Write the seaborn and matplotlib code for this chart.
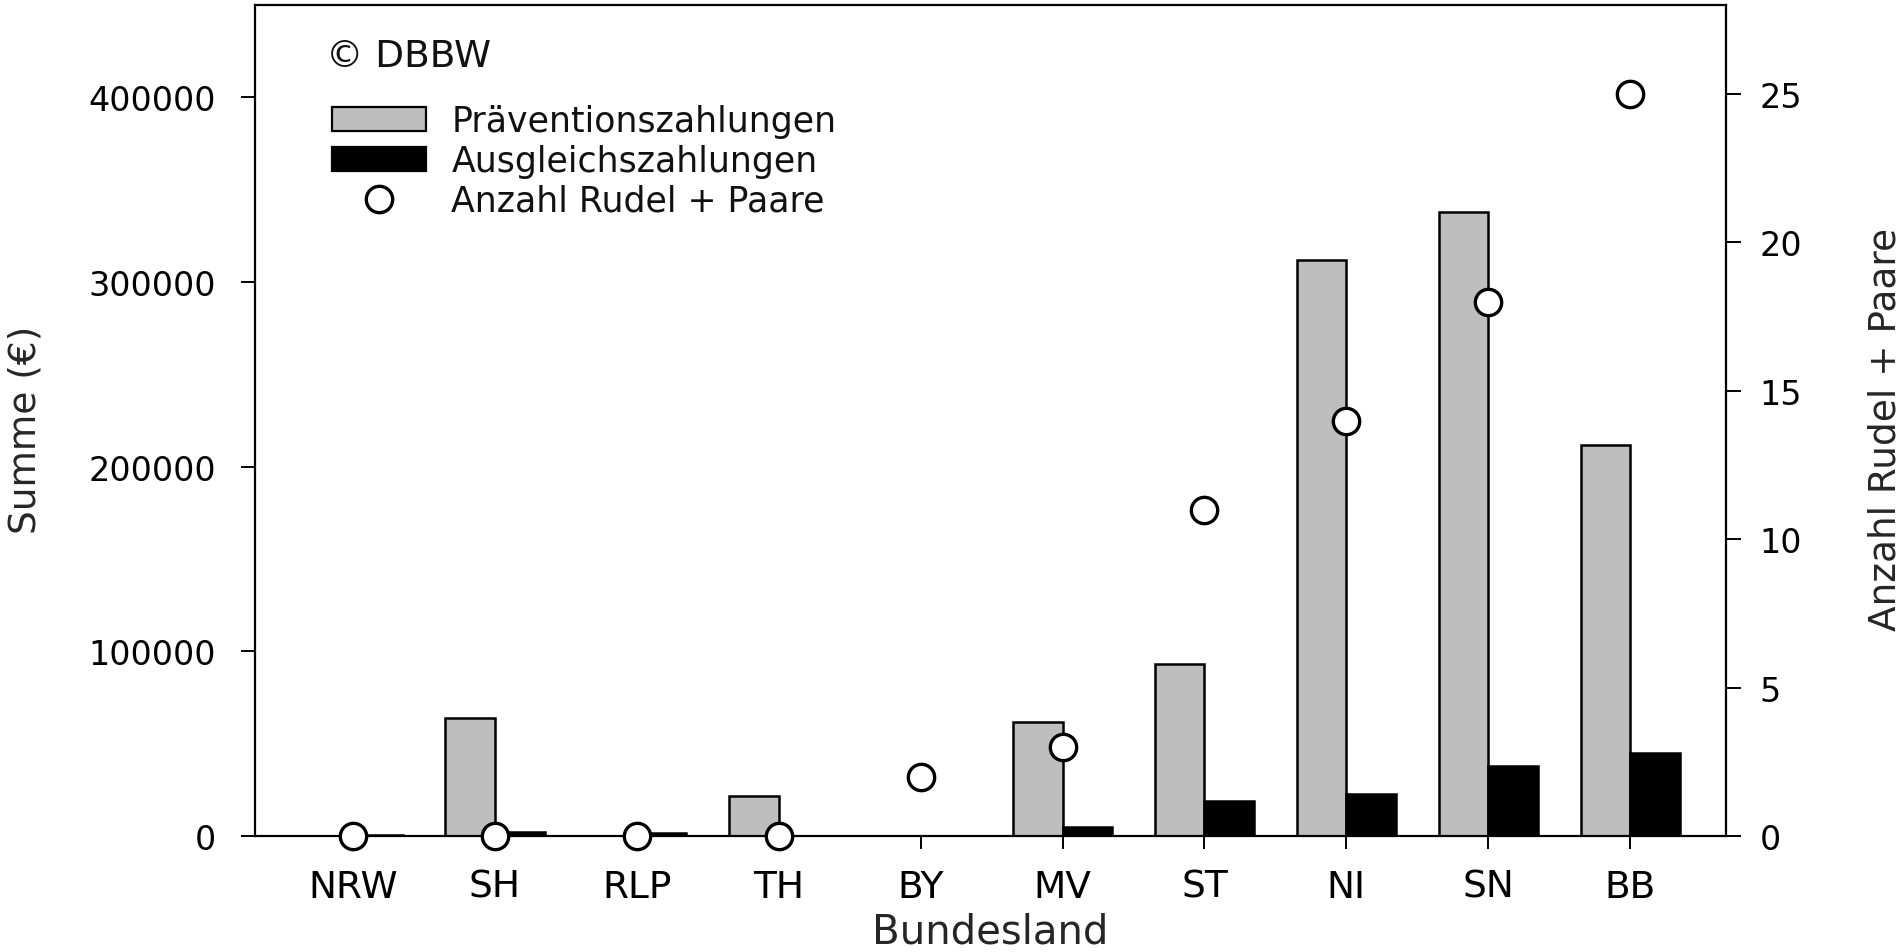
import pandas as pd
import seaborn as sns
import matplotlib.pyplot as plt
from matplotlib.patches import Patch
from matplotlib.lines import Line2D
from matplotlib.ticker import StrMethodFormatter

# 1. Data
states = ['NRW', 'SH', 'RLP', 'TH', 'BY', 'MV', 'ST', 'NI', 'SN', 'BB']
praevention = [0, 64000, 0, 21500, 0, 61500, 93000, 312000, 338000, 212000]
ausgleich = [800, 2000, 1500, 0, 0, 4700, 19000, 23000, 38000, 45000]
rudel_paare = [0, 0, 0, 0, 2, 3, 11, 14, 18, 25]

series_names = ['Präventionszahlungen', 'Ausgleichszahlungen']
series_colors = ['#bebebe', '#000000']
left_ticks = [0, 100000, 200000, 300000, 400000]
right_ticks = [0, 5, 10, 15, 20, 25]

df = pd.DataFrame({
    'Bundesland': states * 2,
    'Summe': praevention + ausgleich,
    'Art': [series_names[0]] * len(states) + [series_names[1]] * len(states),
})

# 2. Style
sns.set_style('ticks')
plt.rcParams['font.family'] = ['DejaVu Sans']
plt.rcParams['text.color'] = '#111111'

fig = plt.figure(figsize=(19.01, 9.53), dpi=100)
ax = fig.add_axes([255 / 1901, 116 / 953, 1471 / 1901, 831 / 953])

# 3. Bars
sns.barplot(
    data=df, x='Bundesland', y='Summe', hue='Art',
    hue_order=series_names, palette=series_colors,
    width=0.7, saturation=1, edgecolor='black', linewidth=1.8,
    legend=False, ax=ax
)

# 4. Circles on the second axis
ax2 = ax.twinx()
sns.scatterplot(
    x=states, y=rudel_paare, ax=ax2, s=360, color='white',
    edgecolor='black', linewidth=2.4, legend=False, zorder=3, clip_on=False
)

# 5. Axes, ticks and labels
ax.set_xlim(-0.69, 9.675)
ax.set_ylim(0, 450000)
ax2.set_ylim(0, 28)
ax.set_yticks(left_ticks)
ax2.set_yticks(right_ticks)
ax.yaxis.set_major_formatter(StrMethodFormatter('{x:.0f}'))

for side in ['left', 'top', 'bottom']:
    ax.spines[side].set_linewidth(1.6)
    ax.spines[side].set_color('black')
    ax2.spines[side].set_visible(False)
ax.spines['right'].set_visible(False)
ax2.spines['right'].set_linewidth(1.6)
ax2.spines['right'].set_color('black')

ax.tick_params(axis='x', direction='out', length=9.5, width=1.4,
               pad=14, labelsize=27, colors='black')
ax.tick_params(axis='y', direction='out', length=10, width=1.4,
               pad=18, labelsize=24, colors='black')
ax2.tick_params(axis='y', direction='out', length=11, width=1.4,
                pad=13, labelsize=24, colors='black')

ax.set_xlabel('Bundesland', fontsize=29)
ax.xaxis.set_label_coords(0.5, -0.091)
ax.set_ylabel('Summe (€)', fontsize=27)
ax.yaxis.set_label_coords(-0.1441, 0.49)
ax2.set_ylabel('Anzahl Rudel + Paare', fontsize=27)
ax2.yaxis.set_label_coords(1.0959, 0.49)

# 6. Legend and credit
handles = [
    Patch(facecolor=series_colors[0], edgecolor='black', linewidth=1.6),
    Patch(facecolor=series_colors[1], edgecolor='black', linewidth=1.6),
    Line2D([], [], marker='o', linestyle='none', markersize=19,
           markerfacecolor='white', markeredgecolor='black',
           markeredgewidth=2.4),
]
ax2.legend(handles, series_names + ['Anzahl Rudel + Paare'],
           loc='upper left', bbox_to_anchor=(332 / 1901, 1 - 105 / 953),
           bbox_transform=fig.transFigure, frameon=False, fontsize=25,
           handlelength=2.72, handleheight=0.68, handletextpad=0.72,
           labelspacing=0.17, borderpad=0, borderaxespad=0)
fig.text(326 / 1901, 1 - 57 / 953, '© DBBW', fontsize=27,
         ha='left', va='center')

fig.savefig('out.png', dpi=100, facecolor='white')
